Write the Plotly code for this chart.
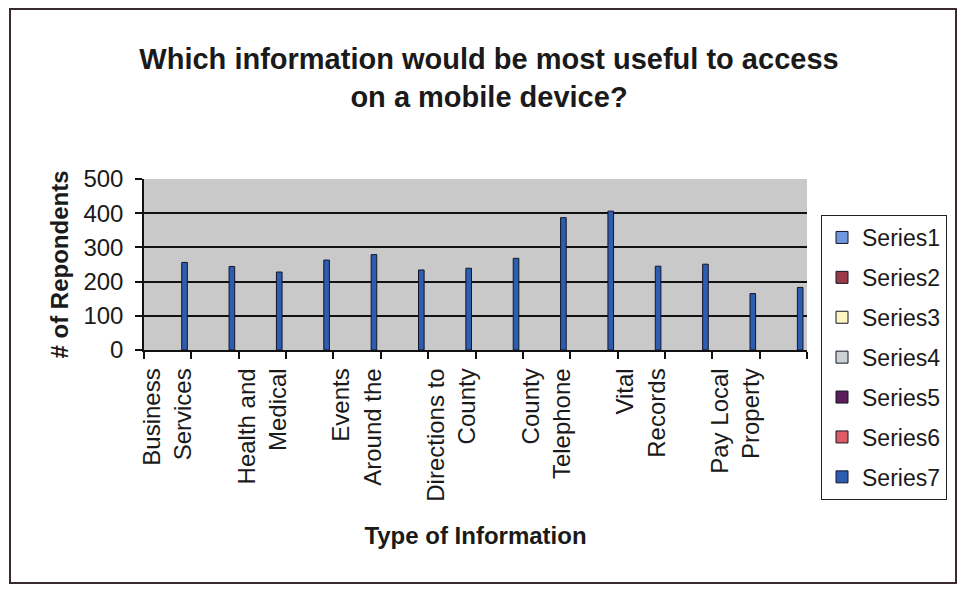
import plotly.graph_objects as go

# ---- data ----
category_labels = [
    "Business<br>Services", "",
    "Health and<br>Medical", "",
    "Events<br>Around the", "",
    "Directions to<br>County", "",
    "County<br>Telephone", "",
    "Vital<br>Records", "",
    "Pay Local<br>Property", "",
]
series_names = ["Series1", "Series2", "Series3", "Series4", "Series5", "Series6", "Series7"]
series7_values = [256, 244, 228, 263, 279, 234, 239, 268, 387, 406, 245, 251, 165, 183]
empty_values = [None] * 14
series_colors = ["#6f97de", "#9a3a48", "#fbf6c4", "#ccd2d2", "#5a1f5a", "#de5c64", "#2c5db0"]
y_ticks = [0, 100, 200, 300, 400, 500]

positions = list(range(len(category_labels)))
shown_pos = [p for p, t in zip(positions, category_labels) if t]
shown_txt = [t for t in category_labels if t]
boundaries = [p - 0.5 for p in positions] + [positions[-1] + 0.5]

fig = go.Figure()
for i, name in enumerate(series_names):
    vals = series7_values if name == "Series7" else empty_values
    fig.add_trace(go.Bar(
        x=positions, y=vals, name=name,
        marker=dict(color=series_colors[i], line=dict(color="#15152a", width=1)),
        legendgroup=name,
    ))

OFF = 8  # page body margin
W, H = 965 - 2 * OFF, 592 - 2 * OFF
L, T = 144 - OFF, 179 - OFF
R = W - (807 - OFF)
B = H - (350 - OFF)
pw, ph = W - L - R, H - T - B

def px_x(x):  # reference screen x -> paper
    return (x - OFF - L) / pw

def px_y(y):  # reference screen y -> paper
    return (H - B - (y - OFF)) / ph

font = "Liberation Sans, Arial, sans-serif"
ink = "#1a1a1a"

fig.update_layout(
    width=W, height=H,
    margin=dict(l=L, r=R, t=T, b=B, autoexpand=False),
    paper_bgcolor="white",
    plot_bgcolor="#c9c9c9",
    barmode="group",
    bargap=0.17,
    bargroupgap=0,
    font=dict(family=font, color=ink),
    title=dict(
        text="<b>Which information would be most useful to access<br>on a mobile device?</b>",
        x=(489 - OFF) / W, xanchor="center", xref="container",
        y=1 - (69 - OFF) / H, yanchor="top", yref="container",
        font=dict(size=29, family=font, color=ink),
    ),
    xaxis=dict(
        range=[-0.5, len(positions) - 0.5],
        tickmode="array", tickvals=shown_pos, ticktext=shown_txt,
        tickangle=-90, ticks="",
        ticklabelstandoff=7,
        tickfont=dict(size=24, family=font, color=ink),
        showgrid=False, zeroline=False,
        showline=True, linecolor="#111", linewidth=1.5,
        minor=dict(tickvals=boundaries, ticks="outside", ticklen=7,
                   tickcolor="#111", tickwidth=1.5, showgrid=False),
        title=dict(text="<b>Type of Information</b>", standoff=26,
                   font=dict(size=24, family=font, color=ink)),
    ),
    yaxis=dict(
        range=[0, 500],
        tickmode="array", tickvals=y_ticks,
        ticks="outside", ticklen=7, tickcolor="#111", tickwidth=1.5,
        ticklabelstandoff=7,
        tickfont=dict(size=24, family=font, color=ink),
        showgrid=True, gridcolor="#111", gridwidth=1.5,
        zeroline=False,
        showline=True, linecolor="#111", linewidth=1.5,
        title=dict(text="<b># of Repondents</b>", standoff=8,
                   font=dict(size=24, family=font, color=ink)),
    ),
    legend=dict(
        xref="container", yref="container",
        x=(821 - OFF) / W, xanchor="left", y=1 - (215 - OFF) / H, yanchor="top",
        bgcolor="white", bordercolor="#222", borderwidth=1,
        font=dict(size=23, family=font, color=ink),
        traceorder="grouped", tracegroupgap=7,
        itemwidth=30,
    ),
    shapes=[dict(
        type="rect", xref="paper", yref="paper",
        x0=px_x(10), x1=px_x(956), y0=px_y(583), y1=px_y(9),
        line=dict(color="#3a2a30", width=2), fillcolor="rgba(0,0,0,0)",
        layer="above",
    )],
)

fig.write_html("out.html")
